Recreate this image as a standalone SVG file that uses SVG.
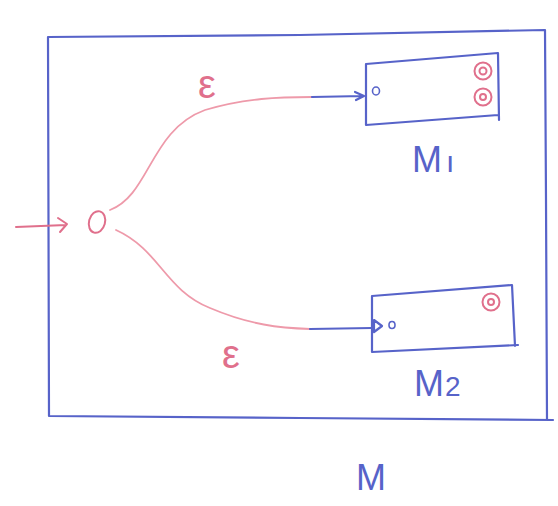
<svg xmlns="http://www.w3.org/2000/svg" width="558" height="506" viewBox="0 0 558 506">
<style>
.b{fill:none;stroke:#5763c9;stroke-width:2.2;stroke-linecap:round;stroke-linejoin:round}
.p{fill:none;stroke:#e0708c;stroke-width:2;stroke-linecap:round;stroke-linejoin:round}
.pl{fill:none;stroke:#ee9aaa;stroke-width:1.8;stroke-linecap:round}
.tb{font-family:"Liberation Sans",sans-serif;fill:#5763c9;font-size:36px}
.tp{font-family:"Liberation Sans",sans-serif;fill:#e0708c;font-size:40px}
</style>
<rect width="558" height="506" fill="#fff"/>
<g id="outer">
<path class="b" d="M48,37 L49,416 M48,37 L300,35 L545,30 M545,30 L546,200 L547,420 M49,416 L300,418 L553,420"/>
<text class="tb" x="356" y="490">M</text>
</g>
<g id="M1">
<path class="b" d="M366,64 L498,53 L499,120 M498,115 L366,125 L366,64"/>
<ellipse cx="376" cy="91" rx="3.5" ry="4" class="b" style="stroke-width:1.6"/>
<circle cx="483" cy="71" r="8.5" class="p"/><circle cx="483" cy="71" r="3.5" class="p"/>
<circle cx="483" cy="97" r="8.5" class="p"/><circle cx="483" cy="97" r="3" class="p"/>
<text class="tb" x="412" y="172">M<tspan font-size="30" dx="4">ı</tspan></text>
</g>
<g id="M2">
<path class="b" d="M372,296 L512,285 L515,346 M372,296 L372,352 L518,345"/>
<ellipse cx="392" cy="325" rx="3" ry="3.5" class="b" style="stroke-width:1.6"/>
<circle cx="491" cy="302" r="8.5" class="p"/><circle cx="491" cy="302" r="3" class="p"/>
<text class="tb" x="414" y="396">M<tspan font-size="28" dx="1">2</tspan></text>
</g>
<g id="start">
<ellipse cx="97" cy="222" rx="8" ry="11" transform="rotate(15 97 222)" class="p"/>
</g>
<g id="connectors">
<path class="p" d="M16,227 L66,225 M58,218 L67,224 L60,232"/>
<path class="pl" d="M110,210 C150,195 150,130 205,110 C245,98 280,97 312,97"/>
<path class="b" d="M312,97 L363,96 M355,92 L364,96 L356,100"/>
<path class="pl" d="M116,230 C160,250 165,290 210,308 C250,325 280,328 310,329"/>
<path class="b" d="M310,329 L372,328 M374,320 L382,326 L374,332 Z"/>
</g>
<text class="tp" x="198" y="98">ε</text>
<text class="tp" x="222" y="368">ε</text>
</svg>
